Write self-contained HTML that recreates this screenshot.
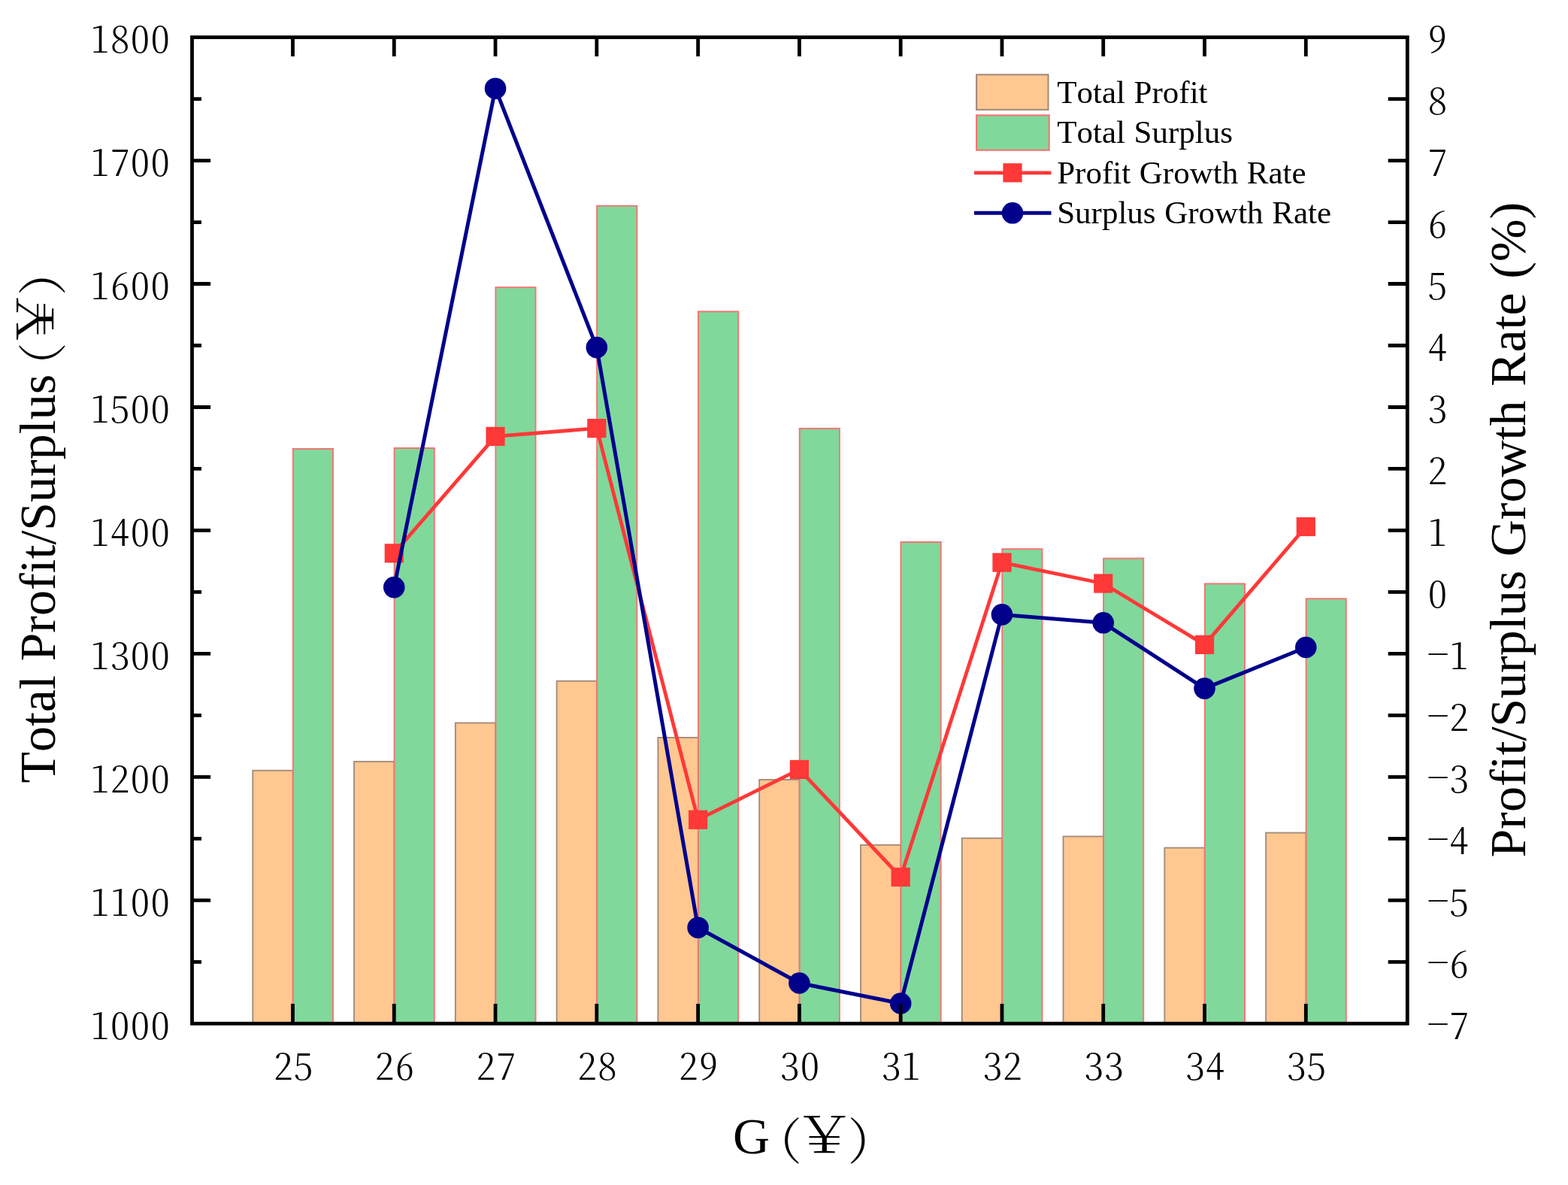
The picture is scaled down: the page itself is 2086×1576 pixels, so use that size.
<!DOCTYPE html>
<html lang="en"><head><meta charset="utf-8"><title>Total Profit/Surplus and Profit/Surplus Growth Rate</title>
<style>
html,body{margin:0;padding:0;background:#fff;}
body{width:2086px;height:1576px;overflow:hidden;}
svg{display:block;}
text{fill:#000;font-kerning:none;font-variant-ligatures:none;}
.tk{font-family:"Noto Serif CJK SC", "Liberation Serif", serif;font-size:47px;font-weight:300;font-feature-settings:"hwid" 1;letter-spacing:1.22px;}
.lg{font-family:"Liberation Serif", "Noto Serif CJK SC", serif;font-size:43px;word-spacing:0.9px;}
.ax{font-family:"Liberation Serif", "Noto Serif CJK SC", serif;font-size:68px;word-spacing:1.6px;}
.cj{font-family:"Noto Serif CJK SC", "Liberation Serif", serif;font-weight:300;font-feature-settings:"hwid" 1;}
.cy{font-family:"Noto Serif CJK SC", "Liberation Serif", serif;font-weight:300;}
.mn{font-feature-settings:normal;letter-spacing:0.9px;}
</style></head><body>
<svg width="2086" height="1576" viewBox="0 0 2086 1576">
<rect x="0" y="0" width="2086" height="1576" fill="#ffffff"/>
<g stroke-width="1.9" stroke-linejoin="miter">
<rect x="336.3" y="1024.75" width="53.4" height="336.55" fill="#FFC891" stroke="#A38C7C"/>
<rect x="471.08" y="1012.85" width="53.4" height="348.45" fill="#FFC891" stroke="#A38C7C"/>
<rect x="605.86" y="961.45" width="53.4" height="399.85" fill="#FFC891" stroke="#A38C7C"/>
<rect x="740.64" y="905.75" width="53.4" height="455.55" fill="#FFC891" stroke="#A38C7C"/>
<rect x="875.42" y="980.95" width="53.4" height="380.35" fill="#FFC891" stroke="#A38C7C"/>
<rect x="1010.2" y="1036.95" width="53.4" height="324.35" fill="#FFC891" stroke="#A38C7C"/>
<rect x="1144.98" y="1123.75" width="53.4" height="237.55" fill="#FFC891" stroke="#A38C7C"/>
<rect x="1279.76" y="1114.75" width="53.4" height="246.55" fill="#FFC891" stroke="#A38C7C"/>
<rect x="1414.54" y="1112.45" width="53.4" height="248.85" fill="#FFC891" stroke="#A38C7C"/>
<rect x="1549.32" y="1127.55" width="53.4" height="233.75" fill="#FFC891" stroke="#A38C7C"/>
<rect x="1684.1" y="1107.55" width="53.4" height="253.75" fill="#FFC891" stroke="#A38C7C"/>
<rect x="389.8" y="596.95" width="53.2" height="764.35" fill="#80D89B" stroke="#F87272"/>
<rect x="524.58" y="595.95" width="53.2" height="765.35" fill="#80D89B" stroke="#F87272"/>
<rect x="659.36" y="382.15" width="53.2" height="979.15" fill="#80D89B" stroke="#F87272"/>
<rect x="794.14" y="273.75" width="53.2" height="1087.55" fill="#80D89B" stroke="#F87272"/>
<rect x="928.92" y="414.35" width="53.2" height="946.95" fill="#80D89B" stroke="#F87272"/>
<rect x="1063.7" y="569.85" width="53.2" height="791.45" fill="#80D89B" stroke="#F87272"/>
<rect x="1198.48" y="720.95" width="53.2" height="640.35" fill="#80D89B" stroke="#F87272"/>
<rect x="1333.26" y="730.15" width="53.2" height="631.15" fill="#80D89B" stroke="#F87272"/>
<rect x="1468.04" y="742.65" width="53.2" height="618.65" fill="#80D89B" stroke="#F87272"/>
<rect x="1602.82" y="776.35" width="53.2" height="584.95" fill="#80D89B" stroke="#F87272"/>
<rect x="1737.6" y="796.25" width="53.2" height="565.05" fill="#80D89B" stroke="#F87272"/>
</g>
<g fill="#FF3838" stroke="none">
<polyline points="524.28,735.8 659.06,580.4 793.84,569.6 928.62,1090.2 1063.4,1023.4 1198.18,1166.5 1332.96,748.1 1467.74,776 1602.52,857.4 1737.3,700.5" fill="none" stroke="#FF3838" stroke-width="4.8" stroke-linejoin="round" stroke-linecap="round"/>
<rect x="511.68" y="723.2" width="25.2" height="25.2"/>
<rect x="646.46" y="567.8" width="25.2" height="25.2"/>
<rect x="781.24" y="557" width="25.2" height="25.2"/>
<rect x="916.02" y="1077.6" width="25.2" height="25.2"/>
<rect x="1050.8" y="1010.8" width="25.2" height="25.2"/>
<rect x="1185.58" y="1153.9" width="25.2" height="25.2"/>
<rect x="1320.36" y="735.5" width="25.2" height="25.2"/>
<rect x="1455.14" y="763.4" width="25.2" height="25.2"/>
<rect x="1589.92" y="844.8" width="25.2" height="25.2"/>
<rect x="1724.7" y="687.9" width="25.2" height="25.2"/>
</g>
<g fill="#00008B" stroke="none">
<polyline points="524.28,781.1 659.06,117.7 793.84,462.1 928.62,1233.7 1063.4,1307.5 1198.18,1334.5 1332.96,817.4 1467.74,828.3 1602.52,915.6 1737.3,861" fill="none" stroke="#00008B" stroke-width="5" stroke-linejoin="round" stroke-linecap="round"/>
<circle cx="524.28" cy="781.1" r="14.3"/>
<circle cx="659.06" cy="117.7" r="14.3"/>
<circle cx="793.84" cy="462.1" r="14.3"/>
<circle cx="928.62" cy="1233.7" r="14.3"/>
<circle cx="1063.4" cy="1307.5" r="14.3"/>
<circle cx="1198.18" cy="1334.5" r="14.3"/>
<circle cx="1332.96" cy="817.4" r="14.3"/>
<circle cx="1467.74" cy="828.3" r="14.3"/>
<circle cx="1602.52" cy="915.6" r="14.3"/>
<circle cx="1737.3" cy="861" r="14.3"/>
</g>
<g stroke="#000" fill="none" stroke-linecap="butt">
<rect x="255.5" y="49.6" width="1616.8" height="1311.7" stroke-width="4.8"/>
<path d="M389.5 1361.3V1335.1M389.5 49.6V75M524.28 1361.3V1335.1M524.28 49.6V75M659.06 1361.3V1335.1M659.06 49.6V75M793.84 1361.3V1335.1M793.84 49.6V75M928.62 1361.3V1335.1M928.62 49.6V75M1063.4 1361.3V1335.1M1063.4 49.6V75M1198.18 1361.3V1335.1M1198.18 49.6V75M1332.96 1361.3V1335.1M1332.96 49.6V75M1467.74 1361.3V1335.1M1467.74 49.6V75M1602.52 1361.3V1335.1M1602.52 49.6V75M1737.3 1361.3V1335.1M1737.3 49.6V75M255.5 1279.32H268M255.5 1197.34H280.1M255.5 1115.36H268M255.5 1033.38H280.1M255.5 951.39H268M255.5 869.41H280.1M255.5 787.43H268M255.5 705.45H280.1M255.5 623.47H268M255.5 541.49H280.1M255.5 459.51H268M255.5 377.52H280.1M255.5 295.54H268M255.5 213.56H280.1M255.5 131.58H268M1872.3 1279.32H1846.7M1872.3 1197.34H1846.7M1872.3 1115.36H1846.7M1872.3 1033.38H1846.7M1872.3 951.39H1846.7M1872.3 869.41H1846.7M1872.3 787.43H1846.7M1872.3 705.45H1846.7M1872.3 623.47H1846.7M1872.3 541.49H1846.7M1872.3 459.51H1846.7M1872.3 377.52H1846.7M1872.3 295.54H1846.7M1872.3 213.56H1846.7M1872.3 131.58H1846.7" stroke-width="4.8"/>
</g>
<g class="tk">
<text transform="translate(227.2 1381.6) scale(1.08 1)" text-anchor="end">1000</text>
<text transform="translate(227.2 1217.64) scale(1.08 1)" text-anchor="end">1100</text>
<text transform="translate(227.2 1053.67) scale(1.08 1)" text-anchor="end">1200</text>
<text transform="translate(227.2 889.71) scale(1.08 1)" text-anchor="end">1300</text>
<text transform="translate(227.2 725.75) scale(1.08 1)" text-anchor="end">1400</text>
<text transform="translate(227.2 561.79) scale(1.08 1)" text-anchor="end">1500</text>
<text transform="translate(227.2 397.82) scale(1.08 1)" text-anchor="end">1600</text>
<text transform="translate(227.2 233.86) scale(1.08 1)" text-anchor="end">1700</text>
<text transform="translate(227.2 69.9) scale(1.08 1)" text-anchor="end">1800</text>
<text transform="translate(390.9 1435.6) scale(1.08 1)" text-anchor="middle">25</text>
<text transform="translate(525.68 1435.6) scale(1.08 1)" text-anchor="middle">26</text>
<text transform="translate(660.46 1435.6) scale(1.08 1)" text-anchor="middle">27</text>
<text transform="translate(795.24 1435.6) scale(1.08 1)" text-anchor="middle">28</text>
<text transform="translate(930.02 1435.6) scale(1.08 1)" text-anchor="middle">29</text>
<text transform="translate(1064.8 1435.6) scale(1.08 1)" text-anchor="middle">30</text>
<text transform="translate(1199.58 1435.6) scale(1.08 1)" text-anchor="middle">31</text>
<text transform="translate(1334.36 1435.6) scale(1.08 1)" text-anchor="middle">32</text>
<text transform="translate(1469.14 1435.6) scale(1.08 1)" text-anchor="middle">33</text>
<text transform="translate(1603.92 1435.6) scale(1.08 1)" text-anchor="middle">34</text>
<text transform="translate(1738.7 1435.6) scale(1.08 1)" text-anchor="middle">35</text>
<text transform="translate(1898.4 1381.6) scale(1.08 1)"><tspan class="mn" dy="-3">−</tspan><tspan dy="3">7</tspan></text>
<text transform="translate(1898.4 1299.62) scale(1.08 1)"><tspan class="mn" dy="-3">−</tspan><tspan dy="3">6</tspan></text>
<text transform="translate(1898.4 1217.64) scale(1.08 1)"><tspan class="mn" dy="-3">−</tspan><tspan dy="3">5</tspan></text>
<text transform="translate(1898.4 1135.66) scale(1.08 1)"><tspan class="mn" dy="-3">−</tspan><tspan dy="3">4</tspan></text>
<text transform="translate(1898.4 1053.67) scale(1.08 1)"><tspan class="mn" dy="-3">−</tspan><tspan dy="3">3</tspan></text>
<text transform="translate(1898.4 971.69) scale(1.08 1)"><tspan class="mn" dy="-3">−</tspan><tspan dy="3">2</tspan></text>
<text transform="translate(1898.4 889.71) scale(1.08 1)"><tspan class="mn" dy="-3">−</tspan><tspan dy="3">1</tspan></text>
<text transform="translate(1899.7 807.73) scale(1.08 1)">0</text>
<text transform="translate(1899.7 725.75) scale(1.08 1)">1</text>
<text transform="translate(1899.7 643.77) scale(1.08 1)">2</text>
<text transform="translate(1899.7 561.79) scale(1.08 1)">3</text>
<text transform="translate(1899.7 479.81) scale(1.08 1)">4</text>
<text transform="translate(1899.7 397.82) scale(1.08 1)">5</text>
<text transform="translate(1899.7 315.84) scale(1.08 1)">6</text>
<text transform="translate(1899.7 233.86) scale(1.08 1)">7</text>
<text transform="translate(1899.7 151.88) scale(1.08 1)">8</text>
<text transform="translate(1899.7 69.9) scale(1.08 1)">9</text>
</g>
<g>
<rect x="1299.1" y="99.3" width="95.4" height="46.6" fill="#FFC891" stroke="#A38C7C" stroke-width="2.1"/>
<rect x="1299.1" y="153.3" width="96.6" height="46.4" fill="#80D89B" stroke="#F87272" stroke-width="2.1"/>
<path d="M1296 229.8H1398.5" stroke="#FF3838" stroke-width="4.8" fill="none"/>
<rect x="1334.4" y="217.2" width="25.2" height="25.2" fill="#FF3838"/>
<path d="M1296 283.3H1398.5" stroke="#00008B" stroke-width="5" fill="none"/>
<circle cx="1347" cy="283.3" r="14.3" fill="#00008B"/>
</g>
<g class="lg">
<text x="1406.2" y="137">Total Profit</text>
<text x="1406.2" y="190.33">Total Surplus</text>
<text x="1406.2" y="243.66">Profit Growth Rate</text>
<text x="1406.2" y="296.99">Surplus Growth Rate</text>
</g>
<g class="ax">
<text transform="translate(72.6 1041.6) rotate(-90)">Total Profit/Surplus <tspan class="cj" font-size="59" x="555.5" y="1">(</tspan><tspan class="cy" font-size="65" x="574.5" y="-1.3" textLength="85.6" lengthAdjust="spacingAndGlyphs">￥</tspan><tspan class="cj" font-size="59" x="649.7" y="1">)</tspan></text>
<text x="975" y="1534">G <tspan class="cj" font-size="59" x="1035.9" y="1535">(</tspan><tspan class="cy" font-size="65" x="1053.9" y="1532.7" textLength="85.6" lengthAdjust="spacingAndGlyphs">￥</tspan><tspan class="cj" font-size="59" x="1129.1" y="1535">)</tspan></text>
<text transform="translate(2029 1140.5) rotate(-90)">Profit/Surplus Growth Rate (%)</text>
</g>
</svg>
</body></html>
